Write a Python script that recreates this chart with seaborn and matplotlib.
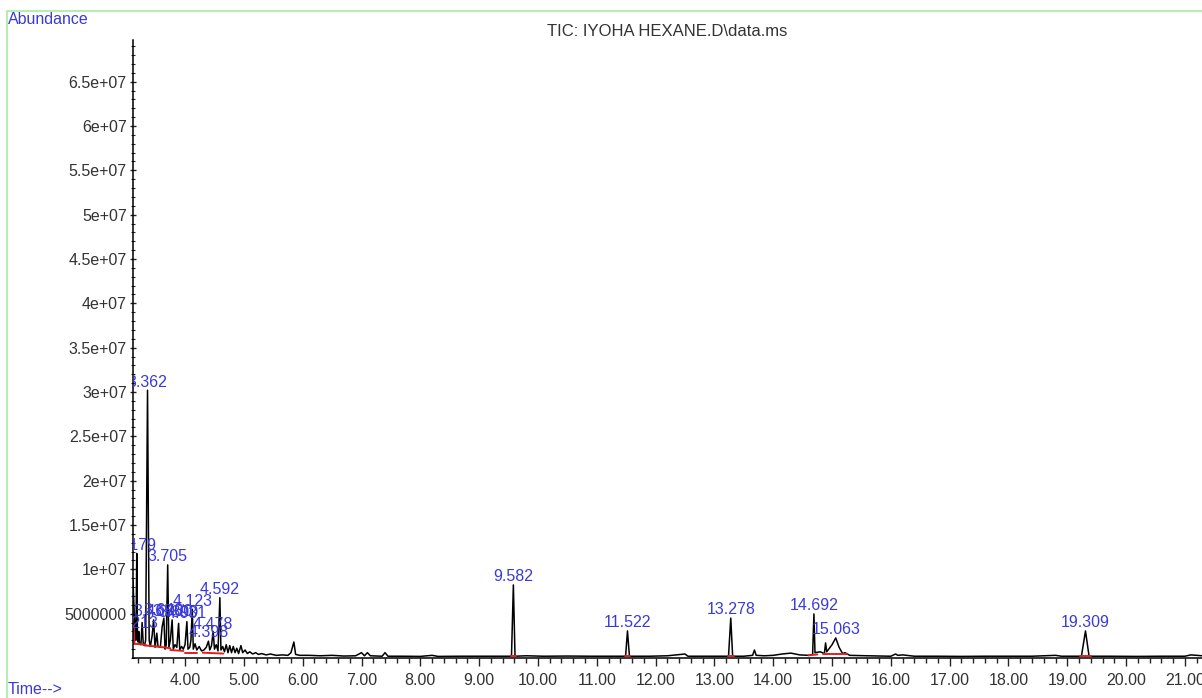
import matplotlib
matplotlib.use("Agg")
import matplotlib.pyplot as plt
import matplotlib.ticker as mticker
from matplotlib.patches import Rectangle
import pandas as pd
import seaborn as sns

# Chromatogram trace (retention time in min, abundance in millions)
trace_time = [
    3.115, 3.13, 3.15, 3.165, 3.179, 3.19, 3.20, 3.213, 3.225, 3.25, 3.27, 3.29, 3.31, 3.33,
    3.362, 3.39, 3.41, 3.44, 3.465, 3.49, 3.52, 3.54, 3.58, 3.61, 3.64, 3.66, 3.68, 3.705,
    3.725, 3.75, 3.78, 3.80, 3.83, 3.86, 3.89, 3.91, 3.94, 3.97, 4.00, 4.031, 4.05, 4.08,
    4.10, 4.123, 4.14, 4.17, 4.20, 4.24, 4.28, 4.32, 4.36, 4.398, 4.42, 4.45, 4.478, 4.50,
    4.53, 4.56, 4.592, 4.61, 4.64, 4.67, 4.70, 4.73, 4.76, 4.79, 4.82, 4.85, 4.88, 4.91,
    4.95, 4.98, 5.02, 5.06, 5.10, 5.15, 5.20, 5.25, 5.30, 5.38, 5.45, 5.55, 5.65, 5.75,
    5.80, 5.85, 5.88, 5.95, 6.1, 6.3, 6.5, 6.7, 6.9, 7.0, 7.05, 7.1, 7.15, 7.35, 7.4, 7.45,
    7.7, 8.0, 8.2, 8.3, 8.7, 9.0, 9.3, 9.55, 9.582, 9.61, 9.8, 10.1, 10.5, 10.9, 11.2,
    11.49, 11.522, 11.555, 11.9, 12.2, 12.5, 12.55, 12.9, 13.24, 13.278, 13.31, 13.5,
    13.65, 13.68, 13.71, 13.85, 14.0, 14.15, 14.3, 14.45, 14.6, 14.67, 14.692, 14.71, 14.8,
    14.87, 14.89, 14.91, 15.0, 15.063, 15.12, 15.18, 15.22, 15.3, 15.6, 16.0, 16.08, 16.12,
    16.2, 16.4, 16.8, 17.2, 17.6, 18.0, 18.4, 18.8, 18.9, 19.24, 19.309, 19.37, 19.7,
    20.2, 20.6, 21.0, 21.1, 21.2, 21.3,
]
trace_abund = [
    8.8, 6.0, 3.0, 2.0, 11.8, 2.5, 1.8, 3.0, 1.6, 1.5, 4.0, 1.5, 1.4, 2.0,
    30.2, 2.0, 1.3, 2.5, 4.3, 1.2, 2.8, 1.3, 1.2, 3.5, 4.5, 1.0, 1.5, 10.5,
    1.2, 2.0, 4.3, 1.0, 1.5, 1.2, 3.9, 0.9, 1.3, 1.0, 1.5, 4.1, 1.0, 1.2,
    2.0, 5.5, 1.0, 1.6, 0.9, 1.3, 0.8, 0.9, 1.2, 1.9, 0.9, 1.4, 3.0, 1.0,
    1.5, 0.8, 6.8, 0.9, 1.3, 0.7, 1.5, 0.6, 1.4, 0.6, 1.3, 0.6, 1.1, 0.5,
    1.4, 0.6, 0.9, 0.5, 0.7, 0.45, 0.6, 0.4, 0.5, 0.35, 0.45, 0.3, 0.35, 0.3,
    0.6, 1.8, 0.4, 0.3, 0.3, 0.25, 0.3, 0.22, 0.25, 0.6, 0.25, 0.6, 0.25, 0.2, 0.6, 0.2,
    0.2, 0.18, 0.3, 0.18, 0.2, 0.2, 0.2, 0.2, 8.24, 0.2, 0.25, 0.2, 0.22, 0.2, 0.2,
    0.2, 3.05, 0.2, 0.2, 0.25, 0.45, 0.2, 0.2, 0.2, 4.5, 0.2, 0.2,
    0.3, 0.9, 0.3, 0.25, 0.3, 0.45, 0.55, 0.35, 0.3, 0.4, 4.97, 0.6, 0.7,
    0.5, 1.7, 0.7, 1.5, 2.26, 1.2, 0.5, 0.6, 0.3, 0.25, 0.2, 0.45, 0.3,
    0.35, 0.2, 0.2, 0.18, 0.2, 0.2, 0.2, 0.3, 0.2, 0.2, 3.05, 0.2, 0.2,
    0.18, 0.2, 0.2, 0.35, 0.3, 0.25,
]

# Integrated peaks (labels) and their apex heights (millions)
peak_rt = [3.179, 3.213, 3.362, 3.465, 3.64, 3.705, 3.78, 3.89, 4.031, 4.123, 4.398,
           4.478, 4.592, 9.582, 11.522, 13.278, 14.692, 15.063, 19.309]
peak_height = [11.8, 3.0, 30.2, 4.3, 4.4, 10.5, 4.3, 4.2, 4.1, 5.5, 1.9,
               2.8, 6.8, 8.24, 3.05, 4.5, 4.97, 2.3, 3.05]

# Red integration baselines (start time, start level, end time, end level)
base_t0 = [3.12, 3.14, 3.33, 3.52, 3.75, 4.00, 4.30, 9.54, 11.48, 13.23, 14.60, 14.85, 19.22]
base_y0 = [4.0, 1.6, 1.4, 1.3, 0.9, 0.6, 0.6, 0.2, 0.2, 0.2, 0.3, 0.4, 0.2]
base_t1 = [3.14, 3.33, 3.52, 3.75, 3.97, 4.20, 4.65, 9.63, 11.57, 13.33, 14.75, 15.25, 19.40]
base_y1 = [1.6, 1.5, 1.3, 1.1, 0.8, 0.6, 0.5, 0.2, 0.2, 0.2, 0.4, 0.4, 0.2]

ytick_vals = [5e6, 1e7, 1.5e7, 2e7, 2.5e7, 3e7, 3.5e7, 4e7, 4.5e7, 5e7, 5.5e7, 6e7, 6.5e7]
ytick_labels = ["5000000", "1e+07", "1.5e+07", "2e+07", "2.5e+07", "3e+07", "3.5e+07",
                "4e+07", "4.5e+07", "5e+07", "5.5e+07", "6e+07", "6.5e+07"]
xtick_vals = list(range(4, 22))

sns.set_style("ticks")
plt.rcParams['font.family'] = ['Liberation Sans', 'DejaVu Sans']

BLUE = "#3a3ad8"
W, H = 1202, 698
fig = plt.figure(figsize=(W / 100, H / 100), dpi=100)
ax = fig.add_axes([133 / W, 1 - 658 / H, 1 - 133 / W, (658 - 40) / H])

df = pd.DataFrame({"time": trace_time, "abund": [v * 1e6 for v in trace_abund]})
sns.lineplot(data=df, x="time", y="abund", sort=False, estimator=None,
             color="black", linewidth=1.1, ax=ax)

for t0, y0, t1, y1 in zip(base_t0, base_y0, base_t1, base_y1):
    sns.lineplot(x=[t0, t1], y=[y0 * 1e6, y1 * 1e6], color="#e02020",
                 linewidth=1.4, estimator=None, sort=False, ax=ax)

for rt, h in zip(peak_rt, peak_height):
    t = ax.annotate(f"{rt:.3f}", xy=(rt, h * 1e6), xytext=(0, 0.5),
                    textcoords="offset points", ha="center", va="bottom",
                    color=BLUE, fontsize=11.5)
    t.set_clip_on(True)
    t.set_clip_path(ax.patch)

ax.set_xlim(3.115, 21.29)
ax.set_ylim(0, 6.97e7)
ax.set_xlabel("")
ax.set_ylabel("")
ax.set_xticks(xtick_vals)
ax.set_xticklabels([f"{v:.2f}" for v in xtick_vals])
ax.xaxis.set_minor_locator(mticker.MultipleLocator(0.2))
ax.set_yticks(ytick_vals)
ax.set_yticklabels(ytick_labels)
ax.yaxis.set_minor_locator(mticker.MultipleLocator(1e6))

ax.tick_params(axis="x", which="major", direction="out", length=6, width=1,
               pad=5, labelsize=11.5, labelcolor="#333333")
ax.tick_params(axis="x", which="minor", direction="out", length=3.5, width=1)
ax.tick_params(axis="y", which="major", direction="inout", length=5, width=1,
               pad=2, labelsize=11.5, labelcolor="#333333")
ax.tick_params(axis="y", which="minor", direction="inout", length=3, width=0.8)

sns.despine(ax=ax, top=True, right=True)
for s in ("left", "bottom"):
    ax.spines[s].set_color("black")
    ax.spines[s].set_linewidth(1.1)

ax.set_title("TIC: IYOHA HEXANE.D\\data.ms", fontsize=12, color="#333333", pad=3)

# green frame around the print area
fig.patches.append(Rectangle((7 / W, -0.1), 1.2, 1 - 11 / H + 0.1,
                             transform=fig.transFigure, fill=False,
                             edgecolor="#a4eca4", linewidth=1.2))
fig.text(8 / W, 1 - 19 / H, "Abundance", color=BLUE, fontsize=11.5,
         ha="left", va="center")
fig.text(8 / W, 1 - 690 / H, "Time-->", color=BLUE, fontsize=11.5,
         ha="left", va="center")

fig.savefig("out.png", dpi=100)
